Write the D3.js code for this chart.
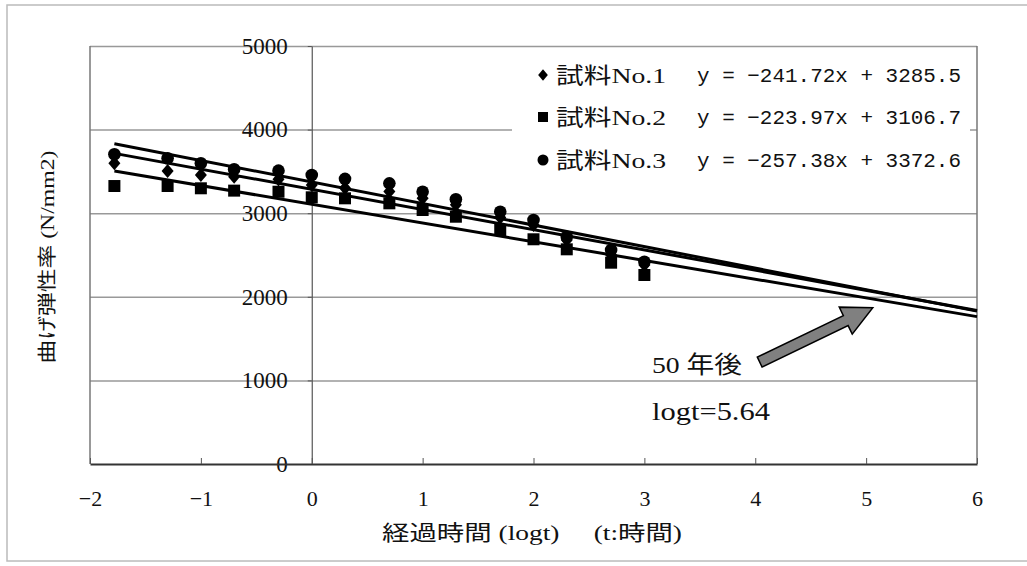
<!DOCTYPE html>
<html>
<head>
<meta charset="utf-8">
<script src="https://cdn.jsdelivr.net/npm/d3@7"></script>
<style>
  body { margin: 0; background: #fff; }
  svg text { font-family: "Liberation Serif", "Noto Sans CJK JP", serif; fill: #111; }
</style>
</head>
<body>
<div id="chart"></div>
<script>
// elapsed time, log10 of hours
const logT = [-1.78, -1.3, -1, -0.7, -0.3, 0, 0.3, 0.7, 1, 1.3, 1.7, 2, 2.3, 2.7, 3];
const sample1 = [3597, 3505, 3457, 3437, 3405, 3337, 3300, 3260, 3180, 3100, 2950, 2860, 2680, 2500, 2380];
const sample2 = [3325, 3325, 3298, 3270, 3257, 3190, 3178, 3118, 3038, 2958, 2799, 2688, 2568, 2408, 2261];
const sample3 = [3705, 3657, 3597, 3525, 3509, 3457, 3411, 3357, 3257, 3166, 3018, 2919, 2719, 2560, 2420];
const seriesNames = ["試料No.1", "試料No.2", "試料No.3"];
const slopes = [-241.72, -223.97, -257.38];
const intercepts = [3285.5, 3106.7, 3372.6];
const xTicks = [-2, -1, 0, 1, 2, 3, 4, 5, 6];
const yTicks = [0, 1000, 2000, 3000, 4000, 5000];
const fitRange = [-1.78, 6];

const width = 1027, height = 566;
const margin = {top: 46, right: 50, bottom: 102, left: 90};

const svg = d3.select("#chart").append("svg")
    .attr("width", width)
    .attr("height", height);

// outer frame
svg.append("rect")
    .attr("x", 7).attr("y", 5)
    .attr("width", 1040).attr("height", 556)
    .attr("fill", "none")
    .attr("stroke", "#bbb")
    .attr("stroke-width", 1.5);

const x = d3.scaleLinear().domain([-2, 6]).range([margin.left, width - margin.right]);
const y = d3.scaleLinear().domain([0, 5000]).range([height - margin.bottom, margin.top]);

// horizontal gridlines
svg.append("g")
    .attr("transform", `translate(${x(-2)},0)`)
    .call(d3.axisLeft(y).tickValues(yTicks.filter(d => d > 0)).tickSize(-(x(6) - x(-2))).tickFormat(""))
    .call(g => g.select(".domain").remove())
    .call(g => g.selectAll("line").attr("stroke", "#999").attr("stroke-width", 1.5));

// left and right border of plot area
svg.append("line")
    .attr("x1", x(-2)).attr("x2", x(-2)).attr("y1", y(5000)).attr("y2", y(0))
    .attr("stroke", "#777").attr("stroke-width", 1.5);
svg.append("line")
    .attr("x1", x(6)).attr("x2", x(6)).attr("y1", y(5000)).attr("y2", y(0))
    .attr("stroke", "#777").attr("stroke-width", 1.5);

// legend background (hides gridline)
const legend = svg.append("g");
legend.append("rect")
    .attr("x", 512).attr("y", 55)
    .attr("width", 458).attr("height", 124)
    .attr("fill", "#fff");

// y axis at x = 0
const yAxis = svg.append("g")
    .attr("transform", `translate(${x(0)},0)`)
    .call(d3.axisLeft(y).tickValues(yTicks).tickFormat(d3.format("d"))
        .tickSizeInner(4).tickSizeOuter(0).tickPadding(20));
yAxis.select(".domain").attr("stroke", "#555").attr("stroke-width", 1.2);
yAxis.selectAll("line").attr("stroke", "#555");
yAxis.selectAll("text")
    .style("font-size", "23px")
    .style("font-family", "Liberation Serif")
    .attr("fill", "#222");

// x axis at y = 0
const xAxis = svg.append("g")
    .attr("transform", `translate(0,${y(0)})`)
    .call(d3.axisBottom(x).tickValues(xTicks).tickSizeInner(-6).tickSizeOuter(0).tickPadding(26)
        .tickFormat(d => d < 0 ? "\u2212" + Math.abs(d) : d));
xAxis.select(".domain").attr("stroke", "#333").attr("stroke-width", 2);
xAxis.selectAll("line").attr("stroke", "#555");
xAxis.selectAll("text")
    .style("font-size", "22px")
    .style("font-family", "Liberation Serif")
    .attr("fill", "#222");

// regression lines
slopes.forEach((m, i) => {
    const b = intercepts[i];
    svg.append("line")
        .attr("x1", x(fitRange[0])).attr("y1", y(m * fitRange[0] + b))
        .attr("x2", x(fitRange[1])).attr("y2", y(m * fitRange[1] + b))
        .attr("stroke", "#000")
        .attr("stroke-width", 3);
});

// markers
const diamond = {
    draw(ctx, size) {
        const h = Math.sqrt(size) / 2;
        const w = h * 0.85;
        ctx.moveTo(0, -h); ctx.lineTo(w, 0); ctx.lineTo(0, h); ctx.lineTo(-w, 0); ctx.closePath();
    }
};
const symbols = [diamond, d3.symbolSquare, d3.symbolCircle];
const dataSizes = [200, 144, 125];
const legendSizes = [130, 100, 95];
const seriesValues = [sample1, sample2, sample3];

// draw series 1 and 2 first, circles last as in the reference overlap
[1, 0, 2].forEach(i => {
    svg.append("g").selectAll("path")
        .data(logT.map((t, k) => ({t, v: seriesValues[i][k]})))
        .enter()
        .append("path")
        .attr("transform", d => `translate(${x(d.t)},${y(d.v)})`)
        .attr("d", d3.symbol().type(symbols[i]).size(dataSizes[i]))
        .attr("fill", "#000");
});

// legend entries
const rowY = [75, 117, 160];
seriesNames.forEach((name, i) => {
    legend.append("path")
        .attr("transform", `translate(543,${rowY[i]})`)
        .attr("d", d3.symbol().type(symbols[i]).size(legendSizes[i]))
        .attr("fill", "#000");
    legend.append("text")
        .attr("x", 556).attr("y", rowY[i])
        .attr("dy", "0.35em")
        .attr("textLength", 110)
        .attr("lengthAdjust", "spacingAndGlyphs")
        .style("font-size", "22px")
        .text(name);
    const eq = `y = ${slopes[i]}x + ${intercepts[i]}`.replace("-", "\u2212");
    legend.append("text")
        .attr("x", 697).attr("y", rowY[i])
        .attr("dy", "0.35em")
        .attr("textLength", 264)
        .attr("lengthAdjust", "spacingAndGlyphs")
        .style("font-family", "Liberation Mono")
        .style("font-size", "21px")
        .text(eq);
});

// axis titles
svg.append("text")
    .attr("transform", `translate(47,${(y(0) + y(5000)) / 2 + 2}) rotate(-90)`)
    .attr("text-anchor", "middle")
    .attr("dy", "0.35em")
    .attr("textLength", 213)
    .attr("lengthAdjust", "spacingAndGlyphs")
    .style("font-size", "19px")
    .attr("fill", "#333")
    .text("曲げ弾性率 (N/mm2)");

svg.append("text")
    .attr("x", 382).attr("y", 533)
    .attr("dy", "0.35em")
    .attr("textLength", 300)
    .attr("lengthAdjust", "spacingAndGlyphs")
    .style("font-size", "21px")
    .attr("fill", "#333")
    .text("経過時間 (logt)\u3000 (t:時間)");

// annotation: arrow to 50 years (logt = 5.64)
const tail = [x(4.04), y(1220)];
const tip = [x(5.06), y(1870)];
const dx = tip[0] - tail[0], dy = tip[1] - tail[1];
const len = Math.hypot(dx, dy);
const ux = dx / len, uy = dy / len, nx = -uy, ny = ux;
const shaftW = 5.5, headW = 15, headL = 30;
const base = [tip[0] - ux * headL, tip[1] - uy * headL];
const pts = [
    [tail[0] + nx * shaftW, tail[1] + ny * shaftW],
    [base[0] + nx * shaftW, base[1] + ny * shaftW],
    [base[0] + nx * headW, base[1] + ny * headW],
    tip,
    [base[0] - nx * headW, base[1] - ny * headW],
    [base[0] - nx * shaftW, base[1] - ny * shaftW],
    [tail[0] - nx * shaftW, tail[1] - ny * shaftW]
];
svg.append("path")
    .attr("d", d3.line()(pts) + "Z")
    .attr("fill", "#808080")
    .attr("stroke", "#000")
    .attr("stroke-width", 1.5);

svg.append("text")
    .attr("x", 652).attr("y", 373)
    .attr("textLength", 90)
    .attr("lengthAdjust", "spacingAndGlyphs")
    .style("font-size", "24px")
    .text("50 年後");

svg.append("text")
    .attr("x", 652).attr("y", 420)
    .attr("textLength", 118)
    .attr("lengthAdjust", "spacingAndGlyphs")
    .style("font-size", "26px")
    .text("logt=5.64");
</script>
</body>
</html>
